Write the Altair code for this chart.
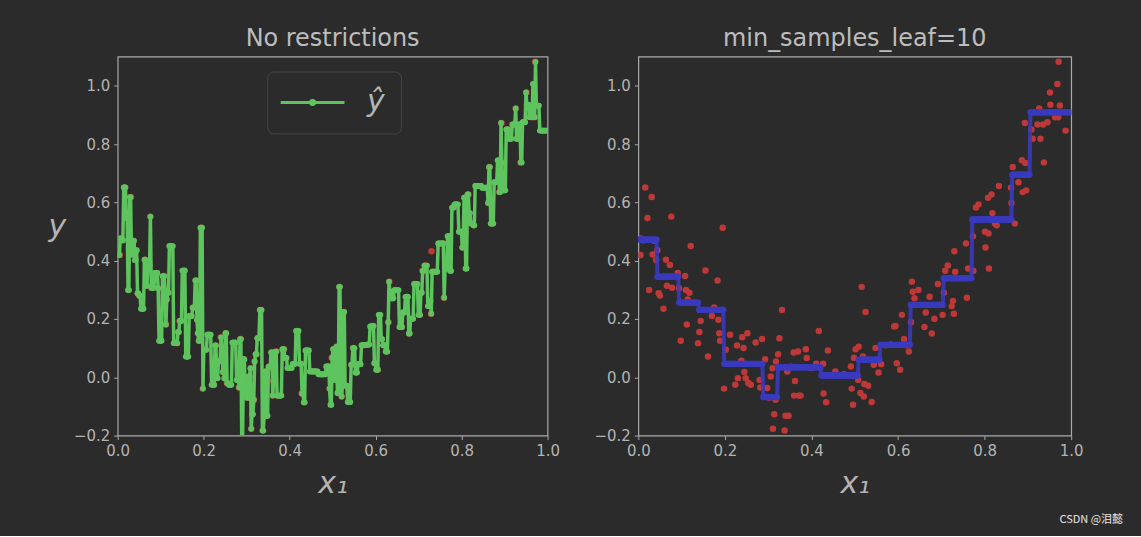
import altair as alt
import numpy as np
import pandas as pd

# ---- data (training points) ----
x_vals = [0.005, 0.006, 0.012, 0.016, 0.021, 0.025, 0.031, 0.033, 0.037, 0.041,
          0.044, 0.047, 0.050, 0.058, 0.064, 0.066, 0.073, 0.076, 0.078, 0.091,
          0.094, 0.098, 0.108, 0.110, 0.112, 0.114, 0.118, 0.121, 0.138, 0.141,
          0.144, 0.155, 0.161, 0.170, 0.175, 0.183, 0.185, 0.187, 0.189, 0.195,
          0.198, 0.202, 0.212, 0.224, 0.228, 0.230, 0.238, 0.240, 0.243, 0.245,
          0.248, 0.252, 0.254, 0.260, 0.271, 0.280, 0.282, 0.286, 0.289, 0.293,
          0.298, 0.302, 0.306, 0.310, 0.311, 0.314, 0.317, 0.318, 0.323, 0.326,
          0.332, 0.338, 0.340, 0.344, 0.347, 0.352, 0.359, 0.360, 0.362, 0.369,
          0.371, 0.375, 0.387, 0.389, 0.400, 0.411, 0.417, 0.427, 0.428, 0.434,
          0.438, 0.455, 0.475, 0.491, 0.493, 0.496, 0.498, 0.502, 0.508, 0.509,
          0.513, 0.516, 0.519, 0.521, 0.522, 0.525, 0.531, 0.539, 0.544, 0.548,
          0.555, 0.561, 0.572, 0.583, 0.591, 0.594, 0.597, 0.605, 0.609, 0.614,
          0.619, 0.625, 0.630, 0.632, 0.634, 0.638, 0.647, 0.661, 0.664, 0.673,
          0.678, 0.684, 0.692, 0.703, 0.706, 0.709, 0.715, 0.724, 0.727, 0.729,
          0.730, 0.732, 0.757, 0.759, 0.762, 0.773, 0.774, 0.780, 0.786, 0.801,
          0.802, 0.808, 0.809, 0.810, 0.816, 0.818, 0.824, 0.828, 0.833, 0.861,
          0.862, 0.865, 0.870, 0.878, 0.886, 0.888, 0.893, 0.894, 0.896, 0.908,
          0.911, 0.922, 0.926, 0.929, 0.935, 0.937, 0.945, 0.951, 0.952, 0.963,
          0.968, 0.970, 0.971, 0.974, 0.987]
y_vals = [0.419, 0.476, 0.470, 0.651, 0.546, 0.299, 0.618, 0.421, 0.468, 0.402,
          0.436, 0.288, 0.280, 0.235, 0.403, 0.314, 0.385, 0.551, 0.307, 0.358,
          0.305, 0.125, 0.347, 0.299, 0.181, 0.267, 0.290, 0.450, 0.117, 0.155,
          0.193, 0.366, 0.071, 0.210, 0.239, 0.332, 0.197, 0.151, 0.125, 0.513,
          -0.039, 0.094, 0.146, -0.026, 0.109, -0.003, 0.057, 0.137, 0.100, 0.018,
          -0.003, 0.151, -0.020, -0.026, 0.119, -0.009, -0.035, 0.131, -0.215, 0.062,
          -0.037, -0.070, 0.003, 0.031, -0.177, -0.127, -0.077, 0.054, 0.079, 0.134,
          0.231, -0.183, -0.132, 0.020, -0.132, 0.036, 0.085, -0.063, -0.013, 0.088,
          -0.063, -0.063, 0.096, 0.066, 0.032, 0.046, 0.159, 0.046, -0.056, -0.086,
          0.092, 0.020, 0.010, 0.037, -0.039, -0.094, 0.067, 0.096, -0.009, 0.105,
          -0.054, 0.310, 0.071, -0.066, -0.023, 0.224, -0.029, -0.085, 0.043, 0.100,
          0.016, 0.045, 0.110, 0.112, 0.174, 0.176, 0.048, 0.026, 0.214, 0.131,
          0.110, 0.088, 0.189, 0.328, 0.293, 0.271, 0.299, 0.172, 0.222, 0.276,
          0.150, 0.201, 0.320, 0.214, 0.290, 0.365, 0.383, 0.244, 0.262, 0.218,
          0.432, 0.362, 0.459, 0.273, 0.373, 0.484, 0.365, 0.582, 0.593, 0.499,
          0.445, 0.616, 0.493, 0.373, 0.627, 0.563, 0.527, 0.521, 0.656, 0.650,
          0.598, 0.721, 0.527, 0.669, 0.744, 0.635, 0.872, 0.735, 0.641, 0.850,
          0.818, 0.867, 0.922, 0.818, 0.867, 0.737, 0.875, 0.977, 0.935, 0.892,
          1.006, 0.892, 1.082, 0.932, 0.846]

# ---- restricted tree (min_samples_leaf=10): leaf boundaries and leaf values ----
leaf_edges = [0.0, 0.044, 0.094, 0.140, 0.197, 0.288, 0.321, 0.421, 0.509,
              0.558, 0.628, 0.705, 0.770, 0.862, 0.905, 1.0]
leaf_values = [0.472, 0.345, 0.256, 0.231, 0.046, -0.068, 0.034, 0.006,
               0.060, 0.111, 0.248, 0.340, 0.541, 0.695, 0.909]

x_ticks = [0.0, 0.2, 0.4, 0.6, 0.8, 1.0]
y_ticks = [-0.2, 0.0, 0.2, 0.4, 0.6, 0.8, 1.0]
titles = ["No restrictions", "min_samples_leaf=10"]
legend_label = "ŷ"
watermark = "CSDN @泪懿"

BG = "#2b2b2b"
RED = "#bf3838"
GREEN = "#5ec45e"
BLUE = "#3a3abf"
TXT = "#b4b4b4"
FRAME = "#a9a9a9"
FONT = "DejaVu Sans"

# predictions evaluated on a fine grid, like the original figure
xs_arr = np.array(x_vals)
ys_arr = np.array(y_vals)
order = np.argsort(xs_arr, kind="stable")
xs_sorted, ys_sorted = xs_arr[order], ys_arr[order]
grid = np.linspace(0, 1, 500)
mids = (xs_sorted[1:] + xs_sorted[:-1]) / 2
pred_full = ys_sorted[np.searchsorted(mids, grid)]
pred_leaf = np.array(leaf_values)[np.searchsorted(np.array(leaf_edges[1:-1]), grid, side="right")]

pts = pd.DataFrame({"x": x_vals, "y": y_vals})
gdf = pd.DataFrame({"x": grid, "y": pred_full, "s": legend_label})
bdf = pd.DataFrame({"x": grid, "y": pred_leaf})
wdf = pd.DataFrame({"t": [watermark]})

W_LEFT, W_RIGHT, H = 431, 434, 380
xscale = alt.Scale(domain=[0, 1], nice=False, zero=False)
yscale = alt.Scale(domain=[-0.2, 1.1], nice=False, zero=False)

xaxis = alt.Axis(values=x_ticks, format=".1f", title="x₁", labelFlush=False,
                 labelOverlap=False, titleY=57, titleBaseline="alphabetic")
yaxis_left = alt.Axis(values=y_ticks, title="y", titleAngle=0, titleX=-61, titleY=170,
                      titleAlign="center", titleBaseline="middle",
                      labelExpr="replace(format(datum.value, '.1f'), '-', '−')")
yaxis_right = alt.Axis(values=y_ticks, title=None,
                       labelExpr="replace(format(datum.value, '.1f'), '-', '−')")


def enc(axis_y):
    return dict(x=alt.X("x:Q", scale=xscale, axis=xaxis),
                y=alt.Y("y:Q", scale=yscale, axis=axis_y))


legend_path = ("M-2.2,0H5.8M2.05,0A0.25,0.25,0,1,1,1.55,0"
               "A0.25,0.25,0,1,1,2.05,0")

red_left = alt.Chart(pts).mark_circle(size=42, color=RED, opacity=1, clip=True).encode(**enc(yaxis_left))
green_line = alt.Chart(gdf).mark_line(strokeWidth=3.5, clip=True).encode(
    **enc(yaxis_left),
    color=alt.Color("s:N", scale=alt.Scale(domain=[legend_label], range=[GREEN]),
                    legend=alt.Legend(title=None, orient="none", legendX=150, legendY=15,
                                      symbolType=legend_path, symbolSize=256,
                                      symbolStrokeWidth=3, labelFontSize=30,
                                      labelFont=FONT, labelFontStyle="italic",
                                      labelColor=TXT, labelOffset=54, padding=16,
                                      fillColor=BG, strokeColor="#444444",
                                      cornerRadius=6)))
green_pts = alt.Chart(gdf).mark_circle(size=34, color=GREEN, opacity=1, clip=True).encode(**enc(yaxis_left))

left = alt.layer(red_left, green_line, green_pts).properties(
    width=W_LEFT, height=H, title=titles[0])

red_right = alt.Chart(pts).mark_circle(size=42, color=RED, opacity=1, clip=True).encode(**enc(yaxis_right))
blue_line = alt.Chart(bdf).mark_line(strokeWidth=4, color=BLUE, opacity=0.88, clip=True).encode(**enc(yaxis_right))
blue_pts = alt.Chart(bdf).mark_circle(size=40, color=BLUE, opacity=0.88, clip=True).encode(**enc(yaxis_right))
mark_wm = alt.Chart(wdf).mark_text(align="right", baseline="middle", font="Noto Sans CJK SC",
                                   fontSize=11, color="#e6e6e6").encode(
    text="t:N", x=alt.value(486), y=alt.value(465))

right = alt.layer(red_right, blue_line, blue_pts, mark_wm).properties(
    width=W_RIGHT, height=H, title=titles[1])

chart = alt.hconcat(left, right, spacing=32).properties(
    padding={"left": 47, "top": 25, "right": 17, "bottom": 9}
).configure(background=BG, font=FONT).configure_view(
    stroke=FRAME, strokeWidth=1.2
).configure_axis(
    grid=False, domain=False, labelColor=TXT, labelFontSize=15, labelFont=FONT,
    tickColor=FRAME, tickSize=4, labelPadding=4, titleColor=TXT, titleFont=FONT,
    titleFontWeight="normal", titleFontStyle="italic", titleFontSize=30
).configure_title(
    color="#bdbdbd", fontSize=24, font=FONT, fontWeight="normal", offset=6, anchor="middle"
)

chart.save("out.html", embed_options={"renderer": "svg", "actions": False})
